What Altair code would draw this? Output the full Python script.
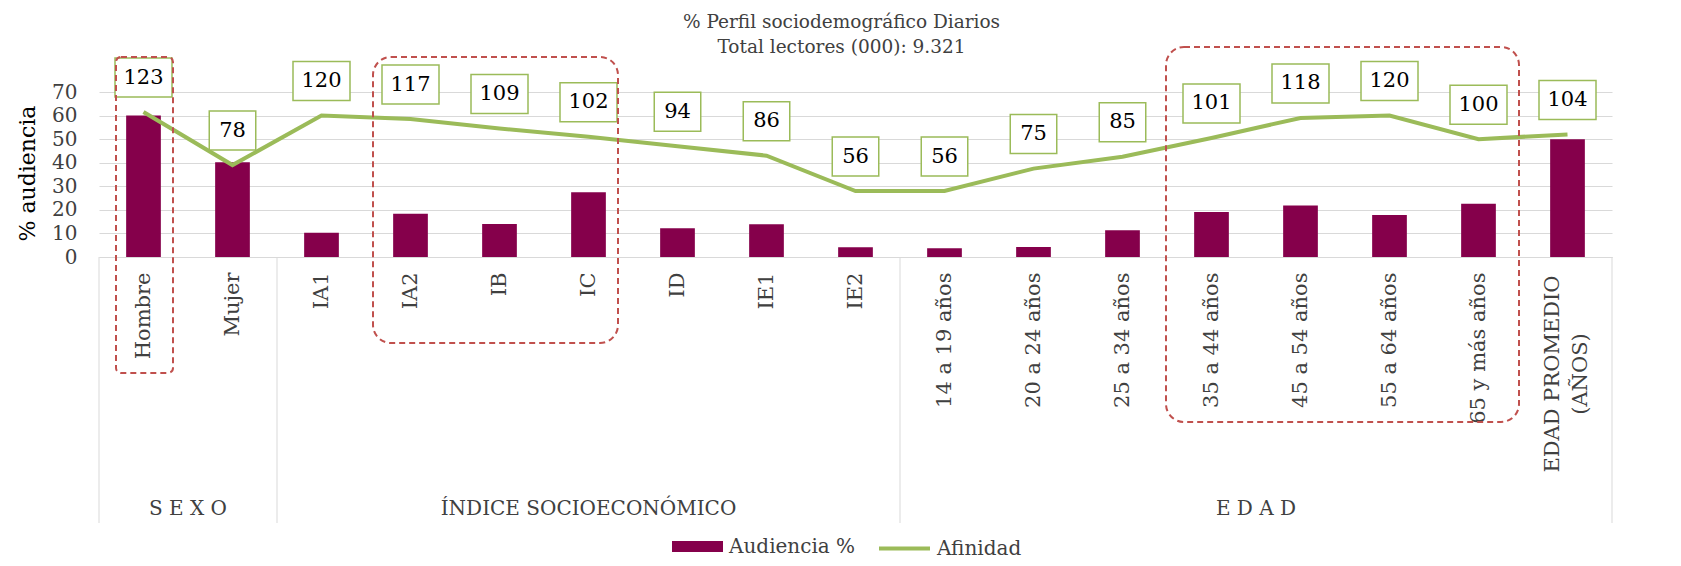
import altair as alt
import pandas as pd

# ---------------- data ----------------
categories = ["Hombre", "Mujer", "IA1", "IA2", "IB", "IC", "ID", "IE1", "IE2",
              "14 a 19 años", "20 a 24 años", "25 a 34 años", "35 a 44 años",
              "45 a 54 años", "55 a 64 años", "65 y más años", "EDAD PROMEDIO (AÑOS)"]
audiencia = [60.0, 40.2, 10.3, 18.4, 14.0, 27.5, 12.2, 13.9, 4.1, 3.7, 4.2, 11.3,
             19.1, 21.8, 17.8, 22.6, 50.0]
afinidad = [123, 78, 120, 117, 109, 102, 94, 86, 56, 56, 75, 85, 101, 118, 120, 100, 104]
group_names = ["S E X O", "ÍNDICE SOCIOECONÓMICO", "E D A D"]
group_sizes = [2, 7, 8]
highlight_ranges = [("Hombre", "Hombre"), ("IA2", "IC"), ("35 a 44 años", "65 y más años")]
series_names = ["Audiencia %", "Afinidad"]
title_lines = ["% Perfil sociodemográfico Diarios", "Total lectores (000): 9.321"]
left_ticks = [0, 10, 20, 30, 40, 50, 60, 70]
right_ticks = [0, 20, 40, 60, 80, 100, 120, 140]

# ---------------- layout / style ----------------
FONT = "DejaVu Serif"
MAROON = "#85004B"
GREEN = "#9BBB59"
RED = "#C0504D"
GRID = "#D9D9D9"
TXT = "#404040"
W, H = 1513, 165
PAD_L, PAD_T = 91, 84
N = len(categories)
BAND = W / N
BOX_OFF = 34.5 * right_ticks[-1] / H
WIDE = "M-1,-0.684L1,-0.684L1,0.684L-1,0.684Z"
NARROW = "M-1,-0.839L1,-0.839L1,0.839L-1,0.839Z"
RECT_SYM = "M-1,-0.22L1,-0.22L1,0.22L-1,0.22Z"
LEG_Y = 429
# highlight box layout: inset left/right px, top/bottom page px, radius
hl_layout = [(17, 15, 57, 373, 5), (7, 15, 57, 343, 18), (-1, 4, 47, 422, 18)]
LONG_LABEL = categories[-1]

df = pd.DataFrame({"cat": categories, "aud": audiencia, "afi": afinidad})

xscale = alt.Scale(domain=categories, paddingInner=0, paddingOuter=0)
yl_scale = alt.Scale(domain=[left_ticks[0], left_ticks[-1]], nice=False)
yr_scale = alt.Scale(domain=[right_ticks[0], right_ticks[-1]], nice=False)

x_axis = alt.Axis(
    title=None, labelAngle=270, labelAlign="right", labelBaseline="middle",
    labelPadding=15, ticks=False, tickSize=0, domainColor=GRID, labelFont=FONT,
    labelFontSize=21, labelColor=TXT, labelLimit=400, labelOverlap=False,
    labelExpr="datum.label == '" + LONG_LABEL + "' ? '' : datum.label",
)
y_left = alt.Axis(
    values=left_ticks, grid=True, gridColor=GRID, domain=False, ticks=False, tickSize=0,
    labelPadding=22, labelFont=FONT, labelFontSize=20, labelColor=TXT,
    title="% audiencia", titleFont=FONT, titleFontSize=22, titleFontWeight="normal",
    titleColor="#000000", titleX=-72, titleY=81, titleAngle=270,
    titleAlign="center", titleBaseline="middle",
)
y_right = alt.Axis(
    orient="right", values=right_ticks, grid=False, domainColor="#868686",
    tickColor="#868686", tickSize=7, labelPadding=16, labelFont=FONT,
    labelFontSize=20, labelColor="#262626", title=None,
)

leg1 = alt.Legend(title=None, orient="none", legendX=573, legendY=LEG_Y,
                  symbolType=RECT_SYM, symbolSize=2601, symbolStrokeWidth=0,
                  labelFont=FONT, labelFontSize=20, labelColor=TXT, labelOffset=6, padding=0)
leg2 = alt.Legend(title=None, orient="none", legendX=778, legendY=LEG_Y,
                  symbolType="stroke", symbolSize=2601, symbolStrokeWidth=4,
                  labelFont=FONT, labelFontSize=20, labelColor=TXT, labelOffset=5, padding=0)

bars = alt.Chart(df).transform_calculate(serie="'" + series_names[0] + "'").mark_bar(
    width={"band": 0.39}
).encode(
    x=alt.X("cat:N", scale=xscale, axis=x_axis),
    y=alt.Y("aud:Q", scale=yl_scale, axis=y_left),
    color=alt.Color("serie:N", scale=alt.Scale(domain=[series_names[0]], range=[MAROON]), legend=leg1),
)

line = alt.Chart(df).transform_calculate(serie2="'" + series_names[1] + "'").mark_line(
    strokeWidth=4
).encode(
    x=alt.X("cat:N", scale=xscale, axis=None),
    y=alt.Y("afi:Q", scale=yr_scale, axis=y_right),
    stroke=alt.Stroke("serie2:N", scale=alt.Scale(domain=[series_names[1]], range=[GREEN]), legend=leg2),
)

box_base = alt.Chart(df).transform_calculate(ybox=f"datum.afi + {BOX_OFF}")
box_w = box_base.transform_filter("datum.afi >= 100").mark_point(
    shape=WIDE, size=57 * 57, filled=True, fill="white", stroke=GREEN, strokeWidth=1.5, opacity=1
).encode(x=alt.X("cat:N", scale=xscale, axis=None), y=alt.Y("ybox:Q", scale=yr_scale, axis=None))
box_n = box_base.transform_filter("datum.afi < 100").mark_point(
    shape=NARROW, size=46.5 * 46.5, filled=True, fill="white", stroke=GREEN, strokeWidth=1.5, opacity=1
).encode(x=alt.X("cat:N", scale=xscale, axis=None), y=alt.Y("ybox:Q", scale=yr_scale, axis=None))
labels = box_base.mark_text(font=FONT, fontSize=21, color="#000000", baseline="middle", align="center").encode(
    x=alt.X("cat:N", scale=xscale, axis=None),
    y=alt.Y("ybox:Q", scale=yr_scale, axis=None),
    text=alt.Text("afi:Q", format="d"),
)
right_layer = alt.layer(line, box_w, box_n, labels)

# ---------------- decorations (index scale) ----------------
deco_x = alt.Scale(domain=[0, N], nice=False, zero=False)
bounds = [0]
for s in group_sizes:
    bounds.append(bounds[-1] + s)
sep_df = pd.DataFrame({"pos": bounds})
grp_df = pd.DataFrame({"name": group_names,
                       "center": [bounds[i] + group_sizes[i] / 2 for i in range(len(group_sizes))]})

seps = alt.Chart(sep_df).mark_rule(color=GRID, strokeWidth=1).encode(
    x=alt.X("pos:Q", scale=deco_x, axis=None), y=alt.value(H), y2=alt.value(H + 266)
)
glabels = alt.Chart(grp_df).mark_text(font=FONT, fontSize=20, color=TXT, baseline="middle").encode(
    x=alt.X("center:Q", scale=deco_x, axis=None), y=alt.value(417), text="name:N"
)
# two-line category label of the last column (centered lines, as in the source)
long_df = pd.DataFrame({"txt": [LONG_LABEL.replace(" (", "\n(")],
                        "pos": [categories.index(LONG_LABEL) + 0.5 - 14.5 / BAND]})
long_lbl = alt.Chart(long_df).mark_text(
    font=FONT, fontSize=21, color=TXT, angle=270, align="center", baseline="middle",
    lineBreak="\n", lineHeight=28
).encode(x=alt.X("pos:Q", scale=deco_x, axis=None), y=alt.value(282), text="txt:N")

deco = [seps, glabels, long_lbl]
for (a, b), (il, ir, top, bot, r) in zip(highlight_ranges, hl_layout):
    x0 = categories.index(a) + il / BAND
    x1 = categories.index(b) + 1 - ir / BAND
    d = pd.DataFrame({"x0": [x0], "x1": [x1]})
    deco.append(
        alt.Chart(d).mark_rect(stroke=RED, strokeWidth=2, strokeDash=[6, 4], fillOpacity=0,
                               cornerRadius=r).encode(
            x=alt.X("x0:Q", scale=deco_x, axis=None), x2="x1:Q",
            y=alt.value(top - PAD_T - 8), y2=alt.value(bot - PAD_T - 8)
        )
    )
deco_layer = alt.layer(*deco)

chart = alt.layer(bars, right_layer, deco_layer).resolve_scale(
    x="independent", y="independent"
).properties(
    width=W, height=H,
    title=alt.TitleParams(text=title_lines, font=FONT, fontSize=18.5, fontWeight="normal",
                          color=TXT, anchor="middle", dx=-14, offset=0, dy=10, lineHeight=25),
    padding={"left": PAD_L, "top": PAD_T, "right": 1665 - PAD_L - W, "bottom": 550 - PAD_T - H},
    autosize=alt.AutoSizeParams(type="none"),
).configure_view(stroke=None)

chart.save("out.html", embed_options={"renderer": "svg", "actions": False})
